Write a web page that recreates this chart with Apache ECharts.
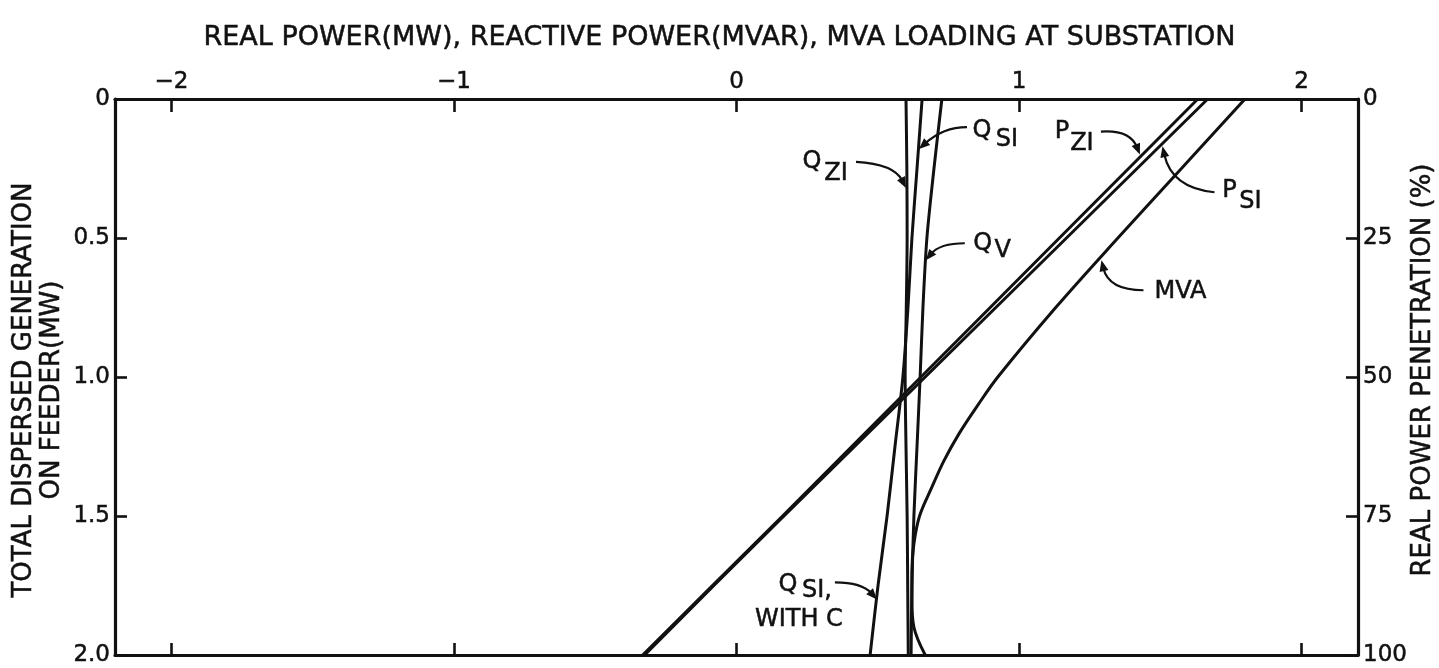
<!DOCTYPE html>
<html><head><meta charset="utf-8">
<script src="https://cdn.jsdelivr.net/npm/echarts@6/dist/echarts.min.js"></script>
<style>html,body{margin:0;padding:0;background:#fff}#c{width:1439px;height:668px}</style>
</head><body><div id="c"></div>
<script>
// ---- data (x = MW / MVAR / MVA at substation, y = total dispersed generation MW) ----
const genSteps = [0, 0.25, 0.5, 0.75, 1.0, 1.25, 1.5, 1.75, 2.0];
const pZI  = [1.633, 1.388, 1.143, 0.898, 0.653, 0.408, 0.163, -0.085, -0.332];
const pSI  = [1.668, 1.418, 1.168, 0.918, 0.668, 0.418, 0.168, -0.080, -0.325];
const qZI  = [0.600, 0.603, 0.604, 0.601, 0.597, 0.600, 0.604, 0.606, 0.608];
const qSI  = [0.657, 0.639, 0.621, 0.607, 0.589, 0.561, 0.533, 0.501, 0.473];
const qV   = [0.727, 0.699, 0.674, 0.660, 0.650, 0.639, 0.628, 0.621, 0.618];
const genMVA = [0, 0.25, 0.5, 0.75, 1.0, 1.1, 1.2, 1.3, 1.4, 1.5, 1.6, 1.7, 1.8, 1.9, 2.0];
const mva  = [1.80, 1.575, 1.35, 1.13, 0.925, 0.855, 0.79, 0.735, 0.69, 0.648, 0.628, 0.621, 0.621, 0.628, 0.668];
const topTicks = [-2, -1, 0, 1, 2];
const genTicks = [0, 0.5, 1.0, 1.5, 2.0];
const penTicks = [0, 25, 50, 75, 100];

const FONT = 'DejaVu Sans';
const INK = '#111';

function pairs(xs, gens) { return gens.map((g, i) => [xs[i], g]); }
function lineSeries(name, xs, gens, smooth) {
  return { name, type: 'line', data: pairs(xs, gens), xAxisIndex: 0, yAxisIndex: 0,
    showSymbol: false, symbol: 'none', smooth: smooth || false, animation: false,
    lineStyle: { color: INK, width: 3 }, z: 3 };
}

const chart = echarts.init(document.getElementById('c'), null, { renderer: 'canvas' });
const tickStyle = { color: INK, width: 2.6 };
const lineSt = { color: INK, width: 3.2 };
const labelBase = { color: INK, fontFamily: FONT, fontSize: 23, textBorderColor: INK, textBorderWidth: 0.5 };

const option = {
  backgroundColor: '#fff',
  animation: false,
  title: { text: 'REAL POWER(MW), REACTIVE POWER(MVAR), MVA LOADING AT SUBSTATION',
    left: 'center', top: 19,
    textStyle: { fontFamily: FONT, fontSize: 27, fontWeight: 'normal', color: INK,
      textBorderColor: INK, textBorderWidth: 0.5 } },
  grid: { left: 115, right: 81, top: 99, bottom: 13, containLabel: false, outerBoundsMode: 'none' },
  xAxis: [
    { type: 'value', position: 'top', min: -2.2, max: 2.2,
      axisLine: { show: true, onZero: false, lineStyle: lineSt },
      axisTick: { show: true, inside: true, length: 13, customValues: topTicks, lineStyle: tickStyle },
      axisLabel: Object.assign({ customValues: topTicks, margin: 5,
        formatter: v => String(v).replace('-', '\u2212') }, labelBase),
      splitLine: { show: false } },
    { type: 'value', position: 'bottom', min: -2.2, max: 2.2,
      axisLine: { show: true, onZero: false, lineStyle: lineSt },
      axisTick: { show: true, inside: true, length: 12, customValues: topTicks, lineStyle: tickStyle },
      axisLabel: { show: false },
      splitLine: { show: false } }
  ],
  yAxis: [
    { type: 'value', position: 'left', min: 0, max: 2, interval: 0.5, inverse: true,
      axisLine: { show: true, onZero: false, lineStyle: lineSt },
      axisTick: { show: true, inside: true, length: 12, lineStyle: tickStyle },
      axisLabel: Object.assign({ margin: 5, showMinLabel: true, showMaxLabel: true,
        formatter: v => (v === 0 ? '0' : v.toFixed(1)) }, labelBase),
      splitLine: { show: false } },
    { type: 'value', position: 'right', min: 0, max: 100, interval: 25, inverse: true,
      axisLine: { show: true, onZero: false, lineStyle: lineSt },
      axisTick: { show: true, inside: true, length: 12, lineStyle: tickStyle },
      axisLabel: Object.assign({ margin: 5, showMinLabel: true, showMaxLabel: true }, labelBase),
      splitLine: { show: false } }
  ],
  series: [
    lineSeries('P_ZI', pZI, genSteps, false),
    lineSeries('P_SI', pSI, genSteps, false),
    lineSeries('Q_ZI', qZI, genSteps, 0.3),
    lineSeries('Q_SI', qSI, genSteps, 0.3),
    lineSeries('Q_V', qV, genSteps, 0.3),
    lineSeries('MVA', mva, genMVA, 0.35)
  ]
};
chart.setOption(option);

// ---- annotations: arrow tip anchored in data coords; label/tail offsets in px ----
const notes = [
  { tip: [0.600, 0.32], tail: [-50, -26], ctrl: [-12, -24], texts: [['Q', -94, -26], ['ZI', -70, -14]] },
  { tip: [0.646, 0.18], tail: [48, -22], ctrl: [24, -22], texts: [['Q', 63, -18], ['SI', 88, -9]] },
  { tip: [0.670, 0.58], tail: [39, -17], ctrl: [14, -17], texts: [['Q', 57, -16], ['V', 77, -9]] },
  { tip: [1.428, 0.20], tail: [-39, -23], ctrl: [-10, -25], texts: [['P', -78, -23], ['ZI', -58, -11]] },
  { tip: [1.508, 0.17], tail: [52, 46], ctrl: [9, 42], texts: [['P', 67, 45], ['SI', 88, 56]] },
  { tip: [1.292, 0.58], tail: [42, 30], ctrl: [7, 30], texts: [['MVA', 79, 32]] },
  { tip: [0.497, 1.80], tail: [-42, -17], ctrl: [-15, -17], texts: [['Q', -89, -15], ['SI,', -60, -9], ['WITH C', -78, 20]] }
];

const g = [];
notes.forEach(n => {
  const t = chart.convertToPixel({ xAxisIndex: 0, yAxisIndex: 0 }, n.tip);
  const tx = t[0], ty = t[1];
  const sx = tx + n.tail[0], sy = ty + n.tail[1];
  const cx = tx + n.ctrl[0], cy = ty + n.ctrl[1];
  let dx = tx - cx, dy = ty - cy; const L = Math.hypot(dx, dy) || 1; dx /= L; dy /= L;
  const AL = 11, AW = 4.5;
  const bx = tx - AL * dx, by = ty - AL * dy;
  g.push({ type: 'bezierCurve', silent: true, z: 10,
    shape: { x1: sx, y1: sy, x2: bx + 3 * dx, y2: by + 3 * dy, cpx1: cx, cpy1: cy },
    style: { stroke: INK, lineWidth: 2.2, fill: null } });
  g.push({ type: 'polygon', silent: true, z: 10,
    shape: { points: [[tx, ty], [bx - AW * dy, by + AW * dx], [bx + AW * dy, by - AW * dx]] },
    style: { fill: INK } });
  n.texts.forEach(s => {
    g.push({ type: 'text', silent: true, z: 10, x: tx + s[1], y: ty + s[2],
      style: { text: s[0], fill: INK, stroke: INK, lineWidth: 0.5, font: '24px "' + FONT + '"',
        align: 'center', verticalAlign: 'middle' } });
  });
});
// axis names
g.push({ type: 'text', silent: true, x: 38, y: 390, rotation: Math.PI / 2,
  style: { text: 'TOTAL DISPERSED GENERATION\nON FEEDER(MW)', fill: INK, stroke: INK, lineWidth: 0.5,
    font: '26px "' + FONT + '"', align: 'center', verticalAlign: 'middle', lineHeight: 28 } });
g.push({ type: 'text', silent: true, x: 1423, y: 370, rotation: Math.PI / 2,
  style: { text: 'REAL POWER PENETRATION (%)', fill: INK, stroke: INK, lineWidth: 0.5,
    font: '26px "' + FONT + '"', align: 'center', verticalAlign: 'middle' } });
chart.setOption({ graphic: g });
</script>
</body></html>
